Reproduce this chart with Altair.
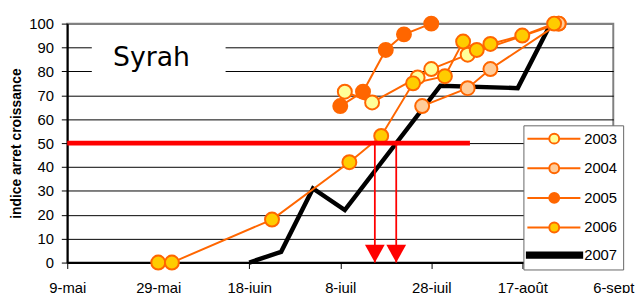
import altair as alt
import pandas as pd
from datetime import date

# ---------------- data ----------------
START = date(2007, 5, 9)          # left end of the time axis (9-mai)

series_names = ["2003", "2004", "2005", "2006", "2007"]

dates_2003 = ["07-09", "07-15", "07-25", "07-28", "08-05", "08-25"]
values_2003 = [71.5, 67, 77.5, 81, 87, 100]

dates_2004 = ["07-26", "08-05", "08-10", "08-25"]
values_2004 = [65.5, 73, 81, 100]

dates_2005 = ["07-08", "07-13", "07-18", "07-22", "07-28"]
values_2005 = [65.5, 71.5, 89, 95.5, 100]

dates_2006 = ["05-29", "06-01", "06-23", "07-10", "07-17", "07-24",
              "07-31", "08-04", "08-07", "08-10", "08-17", "08-24"]
values_2006 = [0, 0, 18, 42, 53, 75, 78, 92.5, 89, 91.5, 95, 100]

dates_2007 = ["06-18", "06-25", "07-02", "07-09", "07-30", "08-16", "08-23"]
values_2007 = [0, 4.5, 31, 22, 74, 73, 99]

tick_days = [0, 20, 40, 60, 80, 100, 120]
tick_labels = ["9-mai", "29-mai", "18-juin", "8-juil", "28-juil", "17-août", "6-sept"]
y_ticks = [0, 10, 20, 30, 40, 50, 60, 70, 80, 90, 100]

threshold_value = 50
threshold_days = [0, 88.5]
arrow_days = [67.6, 72.3]

title_text = "Syrah"
title_box_days = [5.4, 34.8]
title_box_values = [75.5, 97.0]
title_pos = [18.5, 82.4]

# ---------------- styles ----------------
ORANGE = "#FF6600"
stroke_colors = [ORANGE, ORANGE, ORANGE, ORANGE, "black"]
fill_colors = ["#FFFF99", "#FFCC99", ORANGE, "#FFCC00", "black"]
# legend symbols: a line with a circle on it, and a thick bar for 2007
LINE_CIRCLE = ("M-1.9,0H2.54M4.54,0H8.84"
               "M2.54,0A1,1,0,1,1,4.54,0A1,1,0,1,1,2.54,0Z")
THICK_BAR = "M-2,-0.55H9.2V0.55H-2Z"
legend_shapes = [LINE_CIRCLE, LINE_CIRCLE, LINE_CIRCLE, LINE_CIRCLE, THICK_BAR]
ARROW_HEAD = "M-1,-1.8L1,-1.8L0,0Z"
FONT = "Liberation Sans"


def to_day(s):
    m, d = (int(p) for p in s.split("-"))
    return (date(2007, m, d) - START).days


rows = []
for name, ds, vs in [("2003", dates_2003, values_2003), ("2004", dates_2004, values_2004),
                     ("2005", dates_2005, values_2005), ("2006", dates_2006, values_2006),
                     ("2007", dates_2007, values_2007)]:
    for s, v in zip(ds, vs):
        rows.append({"series": name, "day": to_day(s), "value": v})
df = pd.DataFrame(rows)

thr_df = pd.DataFrame({"d0": [threshold_days[0]], "d1": [threshold_days[1]],
                       "value": [threshold_value]})
arrow_df = pd.DataFrame({"day": arrow_days, "top": [threshold_value] * len(arrow_days),
                         "value": [0] * len(arrow_days)})
box_df = pd.DataFrame({"day": [title_box_days[0]], "d1": [title_box_days[1]],
                       "value": [title_box_values[0]], "v1": [title_box_values[1]]})
text_df = pd.DataFrame({"day": [title_pos[0]], "value": [title_pos[1]], "t": [title_text]})

label_expr = "[" + ",".join("'" + t + "'" for t in tick_labels) + "][round(datum.value/20)]"

x_axis = alt.Axis(values=tick_days, labelExpr=label_expr, title=None, grid=False,
                  tickSize=6, labelPadding=12, labelFontSize=15, labelFont=FONT,
                  labelColor="black", domainColor="black", domainWidth=2,
                  tickColor="black", labelFlush=False, labelOverlap=False)
y_axis = alt.Axis(values=y_ticks, title="indice arret croissance", grid=True,
                  gridColor={"condition": {"test": "datum.value === 100", "value": "#808080"},
                             "value": "black"},
                  gridWidth={"condition": {"test": "datum.value === 100", "value": 2},
                             "value": 1},
                  tickSize=6, labelPadding=8, labelFontSize=15, labelFont=FONT,
                  labelColor="black", domainColor="black", domainWidth=2, tickColor="black",
                  titleFont=FONT, titleFontSize=14, titleFontWeight="bold",
                  titleColor="black", titlePadding=5)

xs = alt.Scale(domain=[0, 120], nice=False, zero=False)
ys = alt.Scale(domain=[0, 100], nice=False)


def X(field):
    return alt.X(field, type="quantitative", scale=xs, axis=x_axis)


def Y(field):
    return alt.Y(field, type="quantitative", scale=ys, axis=y_axis)


stroke_enc = alt.Stroke("series:N", scale=alt.Scale(domain=series_names, range=stroke_colors),
                        title=None)
fill_enc = alt.Fill("series:N", scale=alt.Scale(domain=series_names, range=fill_colors),
                    title=None)
shape_enc = alt.Shape("series:N", scale=alt.Scale(domain=series_names, range=legend_shapes),
                      title=None)

base = alt.Chart(df)

box = alt.Chart(box_df).mark_rect(color="white").encode(
    x=X("day"), x2="d1", y=Y("value"), y2="v1")
txt = alt.Chart(text_df).mark_text(font="DejaVu Sans", fontSize=27, color="black",
                                   align="center", baseline="alphabetic").encode(
    x=X("day"), y=Y("value"), text="t:N")

black_line = base.transform_filter("datum.series == '2007'").mark_line(strokeWidth=4.5).encode(
    x=X("day"), y=Y("value"), stroke=stroke_enc)
orange_lines = base.transform_filter("datum.series != '2007'").mark_line(strokeWidth=2).encode(
    x=X("day"), y=Y("value"), stroke=stroke_enc)
points = base.transform_filter("datum.series != '2007'").mark_point(
    shape="circle", filled=True, size=200, strokeWidth=2, opacity=1).encode(
    x=X("day"), y=Y("value"), stroke=stroke_enc, fill=fill_enc)
legend_layer = base.transform_filter("false").mark_point(filled=True, opacity=1).encode(
    x=X("day"), y=Y("value"), stroke=stroke_enc, fill=fill_enc, shape=shape_enc)

thr = alt.Chart(thr_df).mark_rule(color="#FF0000", strokeWidth=5).encode(
    x=X("d0"), x2="d1", y=Y("value"))
arrow_lines = alt.Chart(arrow_df).mark_rule(color="#FF0000", strokeWidth=1.8).encode(
    x=X("day"), y=Y("top"), y2="value")
arrow_heads = alt.Chart(arrow_df).mark_point(shape=ARROW_HEAD, size=400, filled=True,
                                             color="#FF0000", opacity=1).encode(
    x=X("day"), y=Y("value"))

chart = alt.layer(box, txt, black_line, orange_lines, points, legend_layer,
                  thr, arrow_lines, arrow_heads).properties(
    width=553, height=242,
    autosize=alt.AutoSizeParams(type="none"),
    padding={"left": 60, "top": 14, "right": 22, "bottom": 29},
).configure_view(stroke="#808080", strokeWidth=2).configure_legend(
    orient="none", legendX=462, legendY=103, fillColor="white", strokeColor="#666666",
    padding=6, symbolSize=100, symbolStrokeWidth=2, symbolOpacity=1,
    labelFont=FONT, labelFontSize=15, labelColor="black", labelOffset=40.5,
    rowPadding=11, labelBaseline="middle")

chart.save("out.html", embed_options={"renderer": "svg", "actions": False})
